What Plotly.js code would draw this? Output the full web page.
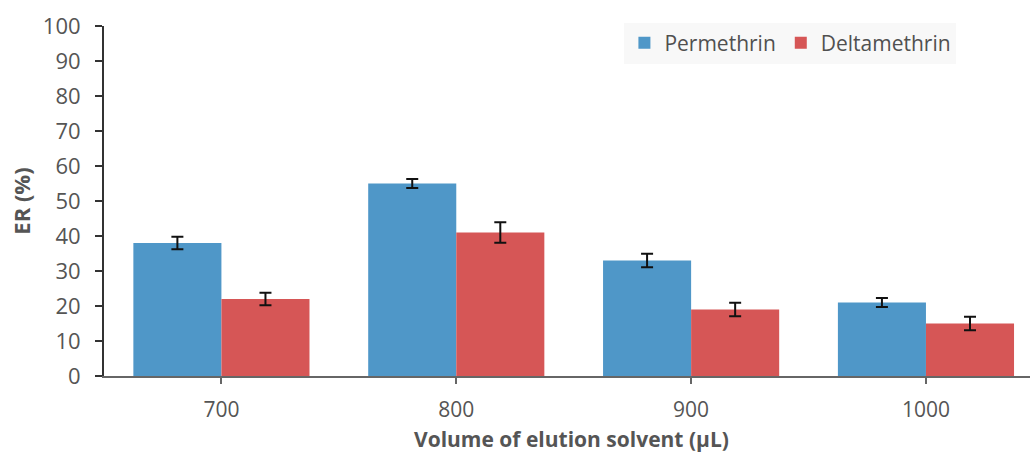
<!DOCTYPE html>
<html>
<head>
<meta charset="utf-8">
<script src="https://cdn.plot.ly/plotly-3.0.1.min.js"></script>
<style>html,body{margin:0;padding:0;background:#fff;}#chart{width:1030px;height:454px;}</style>
</head>
<body>
<div id="chart"></div>
<script>
const categories = ["700", "800", "900", "1000"];
const permethrin = [38, 55, 33, 21];
const permethrinErr = [1.8, 1.3, 1.9, 1.3];
const deltamethrin = [22, 41, 19, 15];
const deltamethrinErr = [1.8, 2.9, 1.9, 1.9];
const xTitle = 'Volume of elution solvent (µL)';
const yTitle = 'ER (%)';

const errStyle = {type: 'data', visible: true, color: '#111', thickness: 2, width: 6};

const traces = [
  {type: 'bar', name: 'Permethrin', x: categories, y: permethrin,
   marker: {color: '#4f97c8'},
   error_y: Object.assign({array: permethrinErr}, errStyle)},
  {type: 'bar', name: 'Deltamethrin', x: categories, y: deltamethrin,
   marker: {color: '#d65656'},
   error_y: Object.assign({array: deltamethrinErr}, errStyle)}
];

const layout = {
  width: 1030, height: 454,
  margin: {l: 104, r: 0, t: 26, b: 78, autoexpand: false},
  paper_bgcolor: '#fff', plot_bgcolor: '#fff',
  font: {family: 'Open Sans, sans-serif', color: '#555', size: 22},
  barmode: 'group', bargap: 0.25, bargroupgap: 0,
  showlegend: true,
  legend: {orientation: 'h', x: 0.562, y: 1.01, xanchor: 'left', yanchor: 'top',
           bgcolor: '#f8f8f8', font: {size: 21, color: '#505050'},
           itemwidth: 30, tracegroupgap: 0},
  xaxis: {type: 'category', range: [-0.5, 3.443], automargin: false,
          showline: true, linecolor: '#666', linewidth: 2,
          ticks: 'outside', ticklen: 6, tickwidth: 2, tickcolor: '#666',
          ticklabelstandoff: 8,
          tickfont: {size: 21, color: '#555'},
          showgrid: false, zeroline: false},
  yaxis: {range: [0, 100], dtick: 10, automargin: false,
          showline: true, linecolor: '#333', linewidth: 2,
          ticks: 'outside', ticklen: 7, tickwidth: 2, tickcolor: '#333',
          ticklabelstandoff: 10,
          tickfont: {size: 22, color: '#555'},
          showgrid: false, zeroline: false},
  annotations: [
    {text: '<b>' + xTitle + '</b>', xref: 'paper', yref: 'paper', x: 0.505, y: -0.181,
     xanchor: 'center', yanchor: 'middle', showarrow: false, font: {size: 21, color: '#555'}},
    {text: '<b>' + yTitle + '</b>', xref: 'paper', yref: 'paper', x: -0.09, y: 0.5,
     xanchor: 'center', yanchor: 'middle', textangle: -90, showarrow: false, font: {size: 22, color: '#555'}}
  ]
};

Plotly.newPlot('chart', traces, layout, {displayModeBar: false, staticPlot: true});
</script>
</body>
</html>
